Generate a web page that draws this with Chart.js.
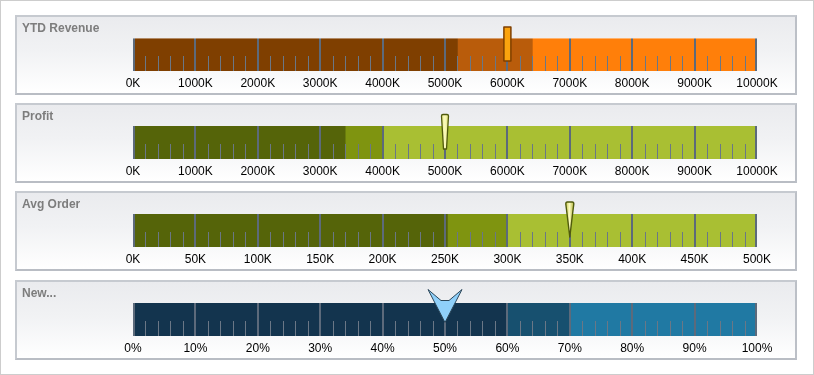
<!DOCTYPE html>
<html><head><meta charset="utf-8">
<script src="https://cdn.jsdelivr.net/npm/chart.js@4.4.1/dist/chart.umd.min.js"></script>
<style>
html,body{margin:0;padding:0;background:#fff;width:814px;height:375px;overflow:hidden;}
#frame{position:absolute;left:0;top:0;width:812px;height:373px;border:1px solid #cdcdcd;}
.panel{position:absolute;left:15px;width:778px;height:76px;border:2px solid #c6cad0;border-bottom-color:#b9bdc4;border-right-color:#bcc0c7;background:linear-gradient(#eaebee 0%,#f1f2f4 45%,#ffffff 100%);}
.title{position:absolute;left:5px;top:4px;font:bold 12px 'Liberation Sans',Arial,sans-serif;color:#7d7d7d;}
canvas{position:absolute;left:0;top:0;}
</style></head>
<body>
<div id="frame"></div>
<script>
// ---- data ----
const titles = ['YTD Revenue', 'Profit', 'Avg Order', 'New...'];
const axisMax = [10000, 10000, 500, 100];
const majorStep = [1000, 1000, 50, 10];
const tickSuffix = ['K', 'K', 'K', '%'];
const revenueRanges = [5200, 6400, 10000];
const profitRanges = [3400, 4000, 10000];
const avgOrderRanges = [252, 300, 500];
const newRanges = [60, 70, 100];
const targets = [6000, 5000, 350, 50];

// ---- style ----
const rangeEnds = [revenueRanges, profitRanges, avgOrderRanges, newRanges];
const rangeColors = [
  ['#7f3f00', '#b95c0b', '#ff7f0a'],
  ['#556409', '#7f9410', '#a9bf33'],
  ['#556409', '#7f9410', '#a9bf33'],
  ['#13344e', '#17506f', '#2079a3']
];
const markerTypes = ['rect', 'taper', 'spike', 'arrow'];
const topHighlight = [true, false, false, false];
const panelTops = [15, 103, 191, 280];

const tickPlugin = {
  id: 'bulletTicks',
  afterDatasetsDraw(chart, args, opts) {
    const ctx = chart.ctx, xs = chart.scales.x, a = chart.chartArea;
    const major = opts.major, minor = major / 5;
    ctx.save();
    // minor ticks
    ctx.strokeStyle = '#6a7786';
    ctx.lineWidth = 1;
    for (let v = 0; v <= xs.max + 1e-9; v += minor) {
      if (Math.abs(v / major - Math.round(v / major)) < 1e-6) continue;
      const x = Math.round(xs.getPixelForValue(v)) + 0.5;
      ctx.beginPath();
      ctx.moveTo(x, a.top + 18);
      ctx.lineTo(x, a.bottom);
      ctx.stroke();
    }
    // major lines
    ctx.strokeStyle = '#5c6a7b';
    ctx.lineWidth = 2;
    xs.ticks.forEach(t => {
      let x = Math.round(xs.getPixelForValue(t.value));
      if (t.value === xs.min) x += 1;
      if (t.value === xs.max) x -= 1;
      ctx.beginPath();
      ctx.moveTo(x, a.top);
      ctx.lineTo(x, a.bottom);
      ctx.stroke();
    });
    if (opts.highlight) {
      ctx.fillStyle = 'rgba(255,255,255,0.4)';
      ctx.fillRect(a.left, a.top, a.right - a.left, 1);
    }
    // marker
    const mx = xs.getPixelForValue(opts.target);
    const top = a.top;
    ctx.lineJoin = 'round';
    if (opts.type === 'rect') {
      ctx.fillStyle = '#fba30e';
      ctx.strokeStyle = '#7f3f00';
      ctx.lineWidth = 1.5;
      ctx.beginPath();
      ctx.rect(mx - 3.5, top - 11, 7, 34);
      ctx.fill(); ctx.stroke();
    } else if (opts.type === 'taper') {
      const g = ctx.createLinearGradient(mx - 4, 0, mx + 4, 0);
      g.addColorStop(0, '#e8e880'); g.addColorStop(0.5, '#fbfbc0'); g.addColorStop(1, '#d8d860');
      ctx.fillStyle = g;
      ctx.strokeStyle = '#4f5a0c';
      ctx.lineWidth = 1.3;
      ctx.beginPath();
      ctx.moveTo(mx - 3.5, top - 10);
      ctx.quadraticCurveTo(mx - 3.5, top - 11.5, mx - 2, top - 11.5);
      ctx.lineTo(mx + 2, top - 11.5);
      ctx.quadraticCurveTo(mx + 3.5, top - 11.5, mx + 3.5, top - 10);
      ctx.lineTo(mx + 1.5, top + 23);
      ctx.lineTo(mx - 1.5, top + 23);
      ctx.closePath();
      ctx.fill(); ctx.stroke();
    } else if (opts.type === 'spike') {
      const g = ctx.createLinearGradient(mx - 4, 0, mx + 4, 0);
      g.addColorStop(0, '#c9c94a'); g.addColorStop(0.45, '#fbfbc2'); g.addColorStop(1, '#b8b840');
      ctx.fillStyle = g;
      ctx.strokeStyle = '#4f5a0c';
      ctx.lineWidth = 1.4;
      ctx.beginPath();
      ctx.moveTo(mx - 4, top - 10);
      ctx.quadraticCurveTo(mx - 4, top - 12, mx - 2.5, top - 12);
      ctx.lineTo(mx + 2.5, top - 12);
      ctx.quadraticCurveTo(mx + 4, top - 12, mx + 4, top - 10);
      ctx.lineTo(mx + 2.5, top + 2);
      ctx.lineTo(mx, top + 23);
      ctx.lineTo(mx - 2.5, top + 2);
      ctx.closePath();
      ctx.fill(); ctx.stroke();
    } else {
      ctx.fillStyle = '#8fd0fa';
      ctx.strokeStyle = '#2b4659';
      ctx.lineWidth = 1;
      ctx.beginPath();
      ctx.moveTo(mx - 17, top - 13.5);
      ctx.lineTo(mx - 4, top - 2.5);
      ctx.lineTo(mx + 4, top - 2.5);
      ctx.lineTo(mx + 17, top - 13.5);
      ctx.lineTo(mx, top + 19.5);
      ctx.closePath();
      ctx.fill(); ctx.stroke();
    }
    ctx.restore();
  }
};

titles.forEach((title, i) => {
  const panel = document.createElement('div');
  panel.className = 'panel';
  panel.style.top = panelTops[i] + 'px';
  const cv = document.createElement('canvas');
  cv.width = 778; cv.height = 76;
  panel.appendChild(cv);
  const tl = document.createElement('div');
  tl.className = 'title';
  tl.textContent = title;
  panel.appendChild(tl);
  document.body.appendChild(panel);

  const ends = rangeEnds[i];
  const datasets = ends.map((e, k) => ({
    data: [e - (k ? ends[k - 1] : 0)],
    backgroundColor: rangeColors[i][k],
    borderWidth: 0,
    barPercentage: 1,
    categoryPercentage: 1
  }));

  new Chart(cv, {
    type: 'bar',
    data: { labels: [title], datasets },
    options: {
      indexAxis: 'y',
      responsive: false,
      animation: false,
      events: [],
      layout: { padding: { left: 116, right: 38, top: 21, bottom: 0 } },
      plugins: {
        legend: { display: false },
        tooltip: { enabled: false },
        bulletTicks: { major: majorStep[i], target: targets[i], type: markerTypes[i], highlight: topHighlight[i] }
      },
      scales: {
        x: {
          type: 'linear', stacked: true, min: 0, max: axisMax[i],
          grid: { display: false, drawTicks: false },
          border: { display: false },
          afterFit(s) { s.height = 22; },
          ticks: {
            stepSize: majorStep[i],
            autoSkip: false,
            maxRotation: 0,
            padding: 5,
            color: '#000',
            font: { family: "'Liberation Sans', Arial, sans-serif", size: 12 },
            callback: v => v + tickSuffix[i]
          }
        },
        y: { display: false, stacked: true }
      }
    },
    plugins: [tickPlugin]
  });
});
</script>
</body></html>
